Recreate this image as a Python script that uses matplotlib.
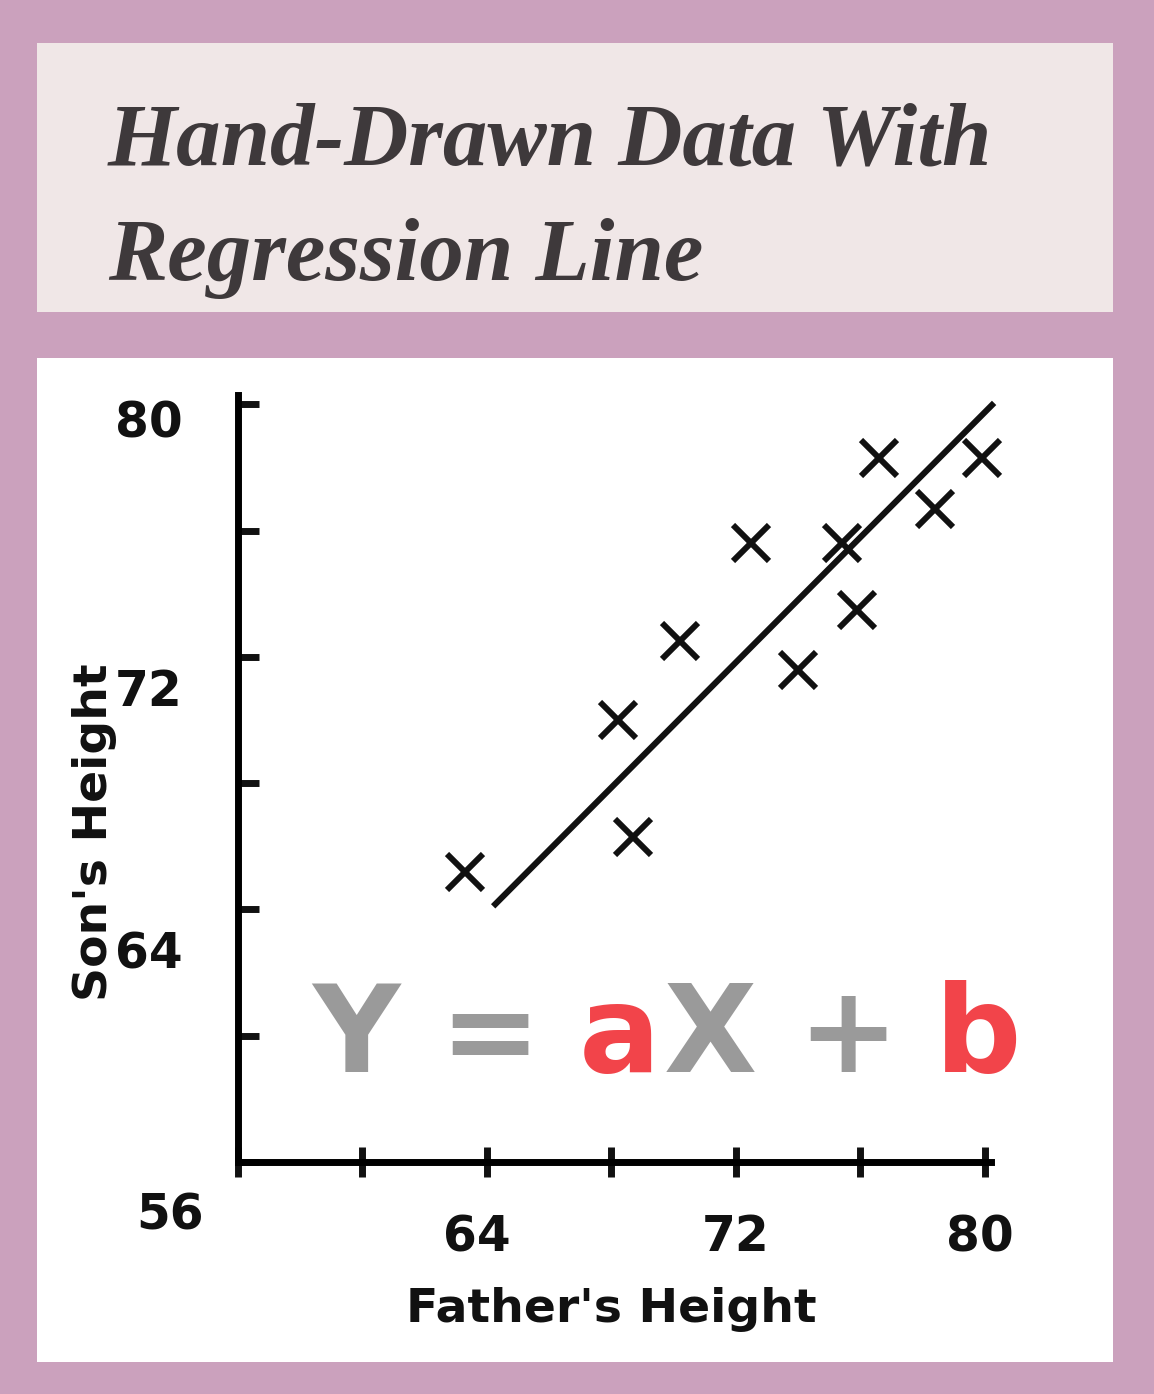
import matplotlib
matplotlib.use("Agg")
import matplotlib.pyplot as plt
import matplotlib.transforms as mtransforms
from matplotlib.patches import Rectangle

# data
father = [63.3, 68.2, 68.7, 70.2, 72.5, 74.0, 75.4, 75.9, 76.6, 78.4, 79.9]
son = [65.2, 70.0, 66.3, 72.5, 75.6, 71.6, 75.6, 73.5, 78.3, 76.7, 78.3]
line_x = [64.2, 80.3]
line_y = [64.1, 80.05]
ticks = [56, 60, 64, 68, 72, 76, 80]
tick_labels = ['', '', '64', '', '72', '', '80']
title_lines = ["Hand-Drawn Data With", "Regression Line"]
eq_parts = ["Y", "=", "a", "X", "+", "b"]
eq_colors = ["#9a9a9a", "#9a9a9a", "#f2444a", "#9a9a9a", "#9a9a9a", "#f2444a"]

W, H = 1154, 1394
fig = plt.figure(figsize=(W / 100, H / 100), dpi=100)
fig.patch.set_facecolor('#cba1bd')

# title box and plot panel
fig.patches.append(Rectangle((37 / W, 1 - 312 / H), (1113 - 37) / W, (312 - 43) / H,
                             transform=fig.transFigure, facecolor='#f0e7e7', edgecolor='none', zorder=-5))
fig.patches.append(Rectangle((37 / W, 1 - 1362 / H), (1113 - 37) / W, (1362 - 358) / H,
                             transform=fig.transFigure, facecolor='white', edgecolor='none', zorder=-5))

fig.text(108 / W, 1 - 165 / H, title_lines[0], family='Liberation Serif', weight='bold',
         style='italic', fontsize=64, color='#3e393b', va='baseline', ha='left')
fig.text(108 / W, 1 - 280 / H, title_lines[1], family='Liberation Serif', weight='bold',
         style='italic', fontsize=64, color='#3e393b', va='baseline', ha='left')

# axes placed so 56 sits at the corner
ax = fig.add_axes([238 / W, 1 - 1162 / H, 753 / W, 767 / H])
ax.set_facecolor('none')
ax.set_xlim(56, 80.2)
ax.set_ylim(56, 80.3)
for s in ['top', 'right']:
    ax.spines[s].set_visible(False)
for s in ['left', 'bottom']:
    ax.spines[s].set_linewidth(5)
    ax.spines[s].set_capstyle('projecting')

ax.plot(line_x, line_y, color='#111111', lw=4.4, solid_capstyle='butt', zorder=2, clip_on=False)
ax.plot(father, son, 'x', color='#111111', ms=26, mew=4.3, zorder=3, clip_on=False)

ax.set_xticks(ticks)
ax.set_xticklabels(tick_labels)
ax.set_yticks(ticks)
ax.set_yticklabels(tick_labels)
ax.tick_params(axis='x', direction='inout', length=22, width=5, pad=26,
               labelsize=35, colors='#111111')
ax.tick_params(axis='y', direction='in', length=15, width=5, pad=40,
               labelsize=35, colors='#111111')
for lab in ax.get_xticklabels() + ax.get_yticklabels():
    lab.set_fontweight('bold')
    lab.set_family('DejaVu Sans')

# hand-placed label offsets
y_off = {'80': 14, '72': 30, '64': 40}
for lab in ax.get_yticklabels():
    t = lab.get_text()
    if t in y_off:
        lab.set_transform(lab.get_transform() +
                          mtransforms.ScaledTranslation(0, -y_off[t] / 100, fig.dpi_scale_trans))
x_off = {'64': -10, '72': 0, '80': -5}
for lab in ax.get_xticklabels():
    t = lab.get_text()
    if t in x_off:
        lab.set_transform(lab.get_transform() +
                          mtransforms.ScaledTranslation(x_off[t] / 100, 0, fig.dpi_scale_trans))

fig.text(170 / W, 1 - 1215 / H, "56", fontsize=35, weight='bold', color='#111111',
         ha='center', va='center')
fig.text(611 / W, 1 - 1310 / H, "Father's Height", fontsize=34, weight='bold',
         color='#111111', ha='center', va='center')
fig.text(95 / W, 1 - 832 / H, "Son's Height", fontsize=34, weight='bold',
         color='#111111', ha='center', va='center', rotation=90)

# equation
eq_x = [356, 490, 620, 710, 848, 978]
for part, c, px in zip(eq_parts, eq_colors, eq_x):
    fig.text(px / W, 1 - 1072 / H, part, fontsize=87, weight='bold', color=c,
             family='DejaVu Sans', ha='center', va='baseline')

fig.savefig('out.png', dpi=100, facecolor=fig.get_facecolor())
